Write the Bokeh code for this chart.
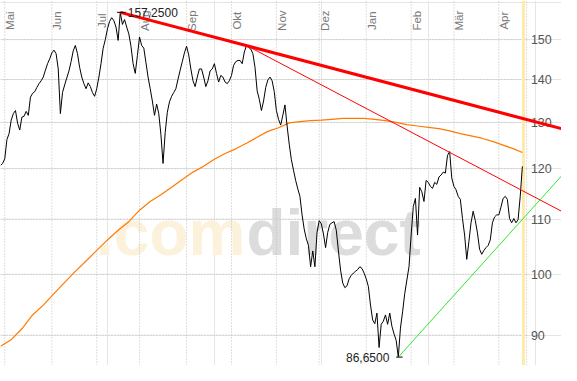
from bokeh.plotting import figure
from bokeh.models import Range1d
from bokeh.embed import file_html
from bokeh.resources import INLINE
from bokeh.core.properties import value
import math

# ---------------- data (trading-day index, price) ----------------
price = [
    120.7, 121.1, 122.1, 126.2, 127.5, 130.5, 132.0, 132.7, 129.8, 128.3,
    131.2, 131.4, 132.5, 131.6, 135.8, 136.7, 137.1, 138.1, 139.0, 139.7,
    140.6, 142.3, 143.9, 145.1, 146.6, 147.3, 146.4, 142.6, 132.0, 136.9,
    138.7, 140.4, 142.1, 144.4, 147.1, 148.5, 146.4, 143.0, 140.6, 139.0,
    137.8, 139.2, 138.3, 136.9, 136.0, 137.8, 140.6, 143.9, 147.8, 150.0,
    152.8, 154.8, 155.8, 155.0, 153.3, 149.8, 157.25, 154.0, 155.3, 153.3,
    151.5, 148.3, 143.9, 141.5, 145.9, 150.7, 148.5, 147.8, 144.2, 140.6,
    137.8, 134.9, 131.6, 134.2, 132.0, 127.3, 121.1, 127.7, 132.3, 134.7,
    136.0, 136.9, 137.8, 140.1, 142.3, 144.4, 146.6, 148.3, 146.1, 142.6,
    139.7, 138.3, 140.6, 142.6, 142.6, 140.6, 138.3, 139.7, 142.1, 142.6,
    143.9, 141.5, 139.4, 141.0, 140.6, 139.4, 139.0, 139.7, 141.0, 143.5,
    144.4, 144.7, 144.7, 143.9, 146.8, 148.5, 148.0, 147.6, 146.4, 143.0,
    137.3, 135.3, 132.7, 134.9, 138.1, 139.9, 140.6, 139.7, 137.1, 132.7,
    130.7, 129.4, 131.6, 134.0, 129.2, 125.2, 121.9, 119.7, 117.6, 115.9,
    114.4, 110.8, 108.1, 106.3, 105.1, 101.3, 104.1, 101.3, 107.5, 109.7,
    109.1, 107.2, 104.7, 107.5, 109.0, 109.3, 109.5, 107.9, 104.1, 100.7,
    98.5, 97.7, 98.0, 99.2, 99.8, 100.2, 100.5, 100.8, 101.3, 101.0,
    100.2, 99.2, 97.9, 94.8, 92.4, 91.8, 93.5, 88.1, 91.7, 92.2,
    93.2, 91.7, 93.5, 91.4, 90.2, 89.2, 86.65, 91.1, 93.7, 96.7,
    99.0, 101.3, 107.0, 112.4, 114.0, 107.0, 116.2, 115.3, 113.4, 117.6,
    117.2, 116.4, 116.0, 117.2, 116.8, 118.3, 118.7, 119.3, 119.1, 122.8,
    123.6, 118.1, 116.4, 115.7, 114.4, 113.8, 110.1, 107.0, 102.6, 105.8,
    109.3, 111.5, 109.7, 107.4, 104.4, 103.5, 104.2, 104.7, 105.1, 106.1,
    109.3, 110.4, 110.8, 110.8, 112.3, 114.0, 114.4, 113.8, 110.1, 109.3,
    110.1, 109.3, 109.9, 114.4, 120.5,
]
days = list(range(len(price)))

# 200-day moving average, sampled
ma_days = [0, 5, 10, 15, 20, 25, 30, 35, 40, 45, 50, 55, 60, 65, 70, 75, 80,
           85, 90, 95, 100, 105, 110, 115, 120, 125, 130, 135, 140, 145, 150,
           155, 160, 165, 170, 175, 180, 185, 190, 195, 200, 205, 210, 215,
           220, 225, 230, 235, 240, 244]
ma_vals = [88.3, 89.3, 91.0, 93.2, 94.8, 96.7, 98.6, 100.5, 102.3, 104.2,
           106.1, 107.9, 109.5, 111.7, 113.4, 114.7, 116.2, 117.8, 119.3, 120.5,
           122.0, 123.2, 124.2, 125.4, 126.7, 128.0, 128.8, 129.9, 130.2, 130.4,
           130.5, 130.7, 130.9, 130.9, 130.9, 130.7, 130.4, 130.0, 129.5, 129.2,
           128.9, 128.6, 128.1, 127.5, 127.0, 126.5, 125.8, 125.0, 124.2, 123.4]

months = ["Mai", "Jun", "Jul", "Aug", "Sep", "Okt", "Nov", "Dez", "Jan", "Feb", "M\u00e4r", "Apr"]
month_days = [2, 24, 45, 65, 87, 108, 129, 149, 171, 192, 212, 233]
y_ticks = [90, 100, 110, 120, 130, 140, 150]
y_tick_labels = ["90", "100", "110", "120", "130", "140", "150"]

high_day, high_val, high_label = 56, 157.25, "157,2500"
low_day, low_val, low_label = 186, 86.65, "86,6500"

x_end = 262.3
today = 244.5
# trend lines (start point, end point)
res_long_x = [56, x_end]; res_long_y = [157.25, 128.6]
res_short_x = [115, x_end]; res_short_y = [148.5, 111.5]
sup_x = [186, x_end]; sup_y = [86.65, 118.5]

Y_MIN, Y_MAX = 85.4, 160.5

FONT = value("Liberation Sans")

p = figure(width=561, height=365, x_range=Range1d(0, x_end), y_range=Range1d(Y_MIN, Y_MAX),
           y_axis_type="log", x_axis_location=None, y_axis_location=None,
           toolbar_location=None, output_backend="svg", min_border=0,
           outline_line_color=None, background_fill_color="white", border_fill_color="white")

# watermark
wm_y = 107.3
p.text(x=[114.5], y=[wm_y], text=[".com"], text_font=FONT, text_font_size="64px",
       text_font_style="bold", text_color="#FCF1DA", text_align="right", text_baseline="alphabetic")
p.text(x=[115.0], y=[wm_y], text=["direct"], text_font=FONT, text_font_size="64px",
       text_font_style="bold", text_color="#DCDCDC", text_align="left", text_baseline="alphabetic")

# grid lines
GRID = "#BDBDBD"
p.segment(x0=month_days, x1=month_days, y0=[Y_MIN] * len(month_days), y1=[Y_MAX] * len(month_days),
          line_color=GRID, line_dash="1 2", line_width=1)
p.segment(x0=[0] * len(y_ticks), x1=[246] * len(y_ticks), y0=y_ticks, y1=y_ticks,
          line_color=GRID, line_dash="1 2", line_width=1)
p.segment(x0=[246], x1=[246], y0=[Y_MIN], y1=[Y_MAX], line_color=GRID, line_dash="1 2", line_width=1)

# today marker
p.segment(x0=[today], x1=[today], y0=[Y_MIN], y1=[Y_MAX], line_color="#FFEAAA", line_width=3)

# labels
p.text(x=[d + 2.6 for d in month_days], y=[155.0] * len(months), text=months, angle=math.pi / 2,
       text_font=FONT, text_font_size="11.5px", text_color="#7A7A7A",
       text_align="center", text_baseline="middle")
p.text(x=[248.0] * len(y_ticks), y=y_ticks, text=y_tick_labels, text_font=FONT,
       text_font_size="12.5px", text_color="#555555", text_align="left", text_baseline="middle")

# series
p.line(ma_days, ma_vals, line_color="#FF7A00", line_width=1.2)
p.line(days, price, line_color="black", line_width=1)

# trend lines
p.line(res_long_x, res_long_y, line_color="#FF0000", line_width=3)
p.line(res_short_x, res_short_y, line_color="#FF0000", line_width=1)
p.line(sup_x, sup_y, line_color="#2EE62E", line_width=1)

# extreme markers
p.segment(x0=[high_day - 1.5], x1=[high_day + 2.5], y0=[high_val], y1=[high_val], line_color="black")
p.text(x=[high_day + 3.5], y=[high_val], text=[high_label], text_font=FONT, text_font_size="12px",
       text_color="#222222", text_align="left", text_baseline="middle")
p.segment(x0=[low_day - 1], x1=[low_day + 2], y0=[low_val], y1=[low_val], line_color="black")
p.text(x=[low_day - 4.2], y=[low_val], text=[low_label], text_font=FONT, text_font_size="12px",
       text_color="#222222", text_align="right", text_baseline="middle")

open("out.html", "w").write(file_html(p, INLINE))
